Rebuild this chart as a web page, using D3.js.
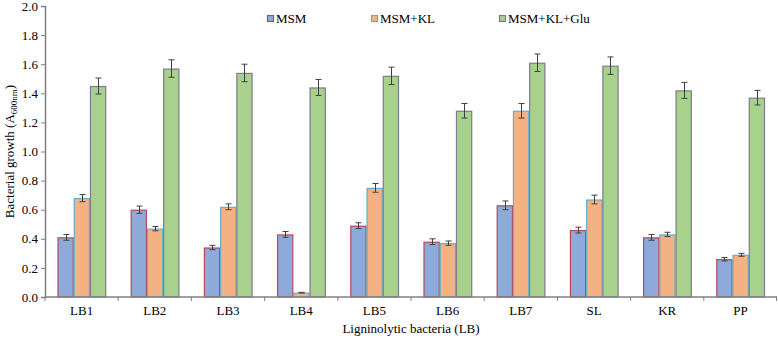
<!DOCTYPE html>
<html>
<head>
<meta charset="utf-8">
<title>Bacterial growth</title>
<script src="https://cdn.jsdelivr.net/npm/d3@7"></script>
<style>
  body { margin: 0; background: #fff; }
</style>
</head>
<body>
<div id="chart"></div>
<script>
// data
const strains = ["LB1", "LB2", "LB3", "LB4", "LB5", "LB6", "LB7", "SL", "KR", "PP"];
const seriesNames = ["MSM", "MSM+KL", "MSM+KL+Glu"];
const msm = [0.41, 0.60, 0.34, 0.43, 0.49, 0.38, 0.63, 0.46, 0.41, 0.26];
const msmKL = [0.68, 0.47, 0.62, 0.03, 0.75, 0.37, 1.28, 0.67, 0.43, 0.29];
const msmKLGlu = [1.45, 1.57, 1.54, 1.44, 1.52, 1.28, 1.61, 1.59, 1.42, 1.37];
const errMsm = [0.02, 0.025, 0.015, 0.02, 0.02, 0.02, 0.03, 0.02, 0.02, 0.012];
const errKL = [0.025, 0.015, 0.02, 0.002, 0.03, 0.015, 0.05, 0.03, 0.015, 0.01];
const errGlu = [0.055, 0.06, 0.06, 0.055, 0.06, 0.05, 0.06, 0.06, 0.055, 0.05];
const yTicks = [0, 0.2, 0.4, 0.6, 0.8, 1.0, 1.2, 1.4, 1.6, 1.8, 2.0];

const fills = ["#8eaadb", "#f4b183", "#a9d18e"];
const strokes = ["#b5485f", "#5fb1c8", "#7f7a8c"];
const serif = "'Liberation Serif', 'Times New Roman', 'DejaVu Serif', serif";

const W = 778, H = 346;
const margin = {top: 6, right: 1, bottom: 49, left: 45};

const svg = d3.select("#chart").append("svg")
    .attr("width", W).attr("height", H);

const x0 = d3.scaleBand().domain(strains)
    .range([margin.left, W - margin.right]);
const x1 = d3.scaleBand().domain(seriesNames)
    .range([12.5, x0.bandwidth() - 12]);
const y = d3.scaleLinear().domain([0, 2]).range([H - margin.bottom, margin.top]);

const values = [msm, msmKL, msmKLGlu];
const errs = [errMsm, errKL, errGlu];
const rows = [];
strains.forEach((s, i) => {
  seriesNames.forEach((n, k) => {
    rows.push({strain: s, series: n, k: k, v: values[k][i], e: errs[k][i]});
  });
});

// bars
svg.append("g").selectAll("rect")
  .data(rows)
  .join("rect")
    .attr("x", d => x0(d.strain) + x1(d.series) + 0.5)
    .attr("y", d => y(d.v) + 0.5)
    .attr("width", x1.bandwidth() - 1)
    .attr("height", d => y(0) - y(d.v) - 0.5)
    .attr("fill", d => fills[d.k])
    .attr("stroke", d => strokes[d.k])
    .attr("stroke-width", 1.2);

// error bars
const eb = svg.append("g").attr("stroke", "#404040").attr("stroke-width", 1);
rows.forEach(d => {
  const cx = Math.round(x0(d.strain) + x1(d.series) + x1.bandwidth() / 2) + 0.5;
  eb.append("line").attr("x1", cx).attr("x2", cx)
    .attr("y1", y(d.v + d.e)).attr("y2", y(d.v - d.e));
  [d.v + d.e, d.v - d.e].forEach(v => {
    eb.append("line").attr("x1", cx - 3).attr("x2", cx + 3)
      .attr("y1", y(v)).attr("y2", y(v));
  });
});

// y axis
const yAxis = svg.append("g")
    .attr("transform", `translate(${margin.left},0)`)
    .call(d3.axisLeft(y).tickValues(yTicks).tickFormat(d3.format(".1f")).tickSize(4).tickPadding(3));
yAxis.select(".domain").attr("stroke", "#808080").attr("stroke-width", 1.5);
yAxis.selectAll(".tick line").attr("stroke", "#808080");

// x axis with ticks at band edges
const xAxis = svg.append("g").attr("transform", `translate(0,${y(0)})`);
xAxis.append("line")
    .attr("x1", margin.left).attr("x2", W - margin.right)
    .attr("stroke", "#808080").attr("stroke-width", 1.5);
xAxis.selectAll(".tk")
  .data(strains.concat(["end"]))
  .join("line")
    .attr("x1", (d, i) => i < strains.length ? x0(d) : x0.range()[1] - 0.5)
    .attr("x2", (d, i) => i < strains.length ? x0(d) : x0.range()[1] - 0.5)
    .attr("y1", 0).attr("y2", 4)
    .attr("stroke", "#808080");
xAxis.selectAll(".lb")
  .data(strains)
  .join("text")
    .attr("x", d => x0(d) + x0.bandwidth() / 2)
    .attr("y", 18)
    .attr("text-anchor", "middle")
    .text(d => d);

// axis titles
svg.append("text")
    .attr("x", (margin.left + W - margin.right) / 2)
    .attr("y", 333)
    .attr("text-anchor", "middle")
    .text("Ligninolytic bacteria (LB)");

const yt = svg.append("text")
    .attr("transform", `translate(14,${(y(0) + y(2)) / 2}) rotate(-90)`)
    .attr("text-anchor", "middle");
yt.append("tspan").text("Bacterial growth (A");
yt.append("tspan").attr("dy", 3).style("font-size", "9px").text("600nm");
yt.append("tspan").attr("dy", -3).text(")");

// legend
const legendX = [267, 371, 499];
const lg = svg.append("g");
seriesNames.forEach((n, k) => {
  lg.append("rect")
    .attr("x", legendX[k] + 0.5).attr("y", 15.5)
    .attr("width", 6).attr("height", 6)
    .attr("fill", fills[k]).attr("stroke", strokes[k]).attr("stroke-width", 1.2);
  lg.append("text")
    .attr("x", legendX[k] + 9).attr("y", 23)
    .text(n);
});

svg.selectAll("text")
    .attr("font-family", null)
    .style("font-family", serif)
    .style("fill", "#000");
svg.selectAll("text").filter(function() { return !this.style.fontSize; })
    .style("font-size", "13px");
</script>
</body>
</html>
